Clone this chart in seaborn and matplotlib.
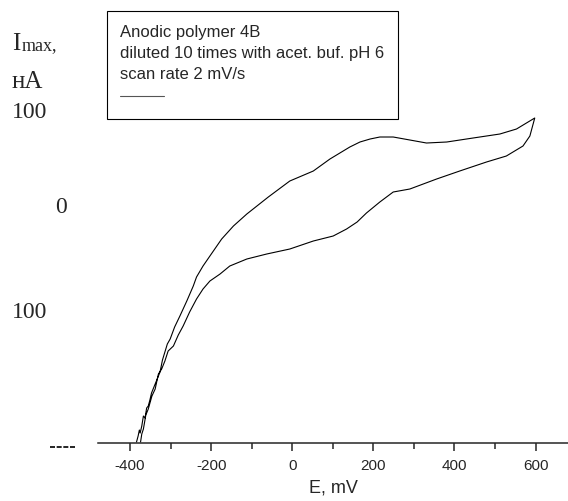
import matplotlib
matplotlib.use("Agg")
import matplotlib.pyplot as plt
import seaborn as sns
import pandas as pd
from matplotlib.lines import Line2D
from matplotlib.ticker import MultipleLocator

# Cyclic voltammogram (E in mV, I in nA)
e_forward = [-384, -380, -377, -375, -371, -367, -363, -359, -355, -351, -347, -343,
             -338, -334, -330, -326, -320, -314, -308, -301, -290, -277, -260, -244,
             -236, -220, -203, -174, -145, -112, -59, -6, 52, 93, 142, 167, 192, 216,
             249, 290, 331, 381, 446, 512, 553, 598]
i_forward = [-238, -232, -226, -229, -222, -212, -214, -204, -202, -196, -189, -185,
             -180, -176, -172, -168, -156, -148, -140, -135, -123, -112, -97, -82,
             -73, -62, -52, -35, -22, -10, 7, 23, 33, 45, 57, 62, 65, 67,
             67, 64, 61, 62, 66, 70, 75, 86]
e_reverse = [598, 586, 569, 528, 479, 413, 356, 290, 249, 216, 183, 160, 134, 101, 52,
             -6, -63, -112, -154, -178, -203, -220, -236, -253, -269, -281, -293, -306,
             -314, -322, -330, -338, -346, -355, -361, -367, -371, -374]
i_reverse = [86, 68, 58, 48, 42, 33, 25, 15, 12, 2, -9, -18, -25, -32, -37,
             -45, -50, -55, -62, -70, -77, -85, -95, -108, -122, -131, -142, -147,
             -157, -165, -170, -185, -192, -205, -211, -225, -230, -238]

x_ticks = [-400, -200, 0, 200, 400, 600]
y_labels = ["100", "0", "100"]
legend_lines = ["Anodic polymer 4B",
                "diluted 10 times with acet. buf. pH 6",
                "scan rate 2 mV/s"]

df = pd.DataFrame({
    "E": e_forward + e_reverse,
    "I": i_forward + i_reverse,
})

sns.set_style("ticks")
plt.rcParams["font.family"] = ["Liberation Sans", "DejaVu Sans"]

fig = plt.figure(figsize=(5.68, 5.02), dpi=100)
ax = fig.add_axes([0.1725, 0.1161, 0.8275, 0.8839])

sns.lineplot(data=df, x="E", y="I", sort=False, estimator=None,
             color="black", linewidth=0.8, ax=ax)

ax.set_xlim(-479, 680)
ax.set_ylim(-238.7, 205)
ax.set_xticks(x_ticks)
ax.set_xticklabels([str(t) for t in x_ticks])
ax.xaxis.set_minor_locator(MultipleLocator(100))
ax.tick_params(axis="x", which="major", length=6, width=1.1, labelsize=11, pad=5)
ax.tick_params(axis="x", which="minor", length=4, width=1.1)
ax.set_yticks([])
ax.set_xlabel("E, mV", fontsize=13, labelpad=5)
ax.set_ylabel("")
sns.despine(ax=ax, left=True, top=True, right=True)
ax.spines["bottom"].set_linewidth(1.1)

# legend box with a three-line title and an empty line sample
leg = ax.legend(handles=[Line2D([], [], color="#555555", lw=0.8)], labels=[""],
                title="\n".join(legend_lines), title_fontsize=12, fontsize=12,
                loc="upper left", bbox_to_anchor=(107 / 568, 1 - 12 / 502),
                bbox_transform=fig.transFigure, fancybox=False, framealpha=1,
                edgecolor="black", borderaxespad=0, handlelength=2.6,
                handleheight=0.9, handletextpad=0, borderpad=0.8,
                alignment="left")
leg.get_frame().set_linewidth(0.8)
leg.get_title().set_linespacing(1.5)

# y-axis texts as they appear, in a serif face
serif = ["Liberation Serif", "DejaVu Serif"]
fig.text(12 / 568, 1 - 50 / 502, "I", fontsize=18, family=serif)
fig.text(22 / 568, 1 - 50 / 502, "max,", fontsize=13, family=serif)
fig.text(12 / 568, 1 - 88 / 502, "нА", fontsize=18, family=serif)
fig.text(12 / 568, 1 - 118 / 502, y_labels[0], fontsize=17, family=serif)
fig.text(55 / 568, 1 - 213 / 502, y_labels[1], fontsize=17, family=serif)
fig.text(12 / 568, 1 - 318 / 502, y_labels[2], fontsize=17, family=serif)
fig.add_artist(Line2D([50 / 568, 75 / 568], [1 - 448 / 502] * 2, color="black",
                      lw=1.2, linestyle=(0, (3, 1)), transform=fig.transFigure))

fig.savefig("out.png", dpi=100)
